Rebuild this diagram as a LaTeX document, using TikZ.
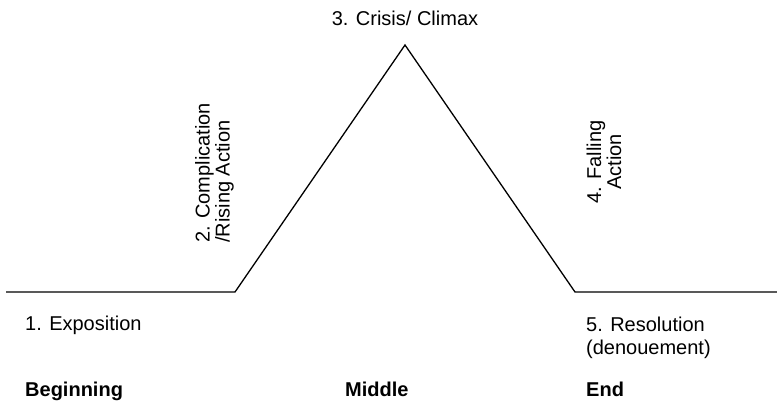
\documentclass[tikz,border=0pt]{standalone}
\usepackage{fontspec}
\setmainfont{Liberation Sans}
\usetikzlibrary{positioning}
\tikzset{
  stagetxt/.style={font=\fontsize{20}{23}\selectfont, inner sep=0pt},
  sidetxt/.style={font=\fontsize{20}{20}\selectfont, inner sep=0pt, rotate=90},
  parttxt/.style={font=\fontsize{20}{23}\selectfont\bfseries, inner sep=0pt, anchor=base west}
}
\begin{document}
\begin{tikzpicture}[x=1pt,y=-1pt]
            \useasboundingbox (0,0) rectangle (777,408);
            % the plot line
            \coordinate (start) at (6,292);
            \coordinate (rise) at (235,292);
            \coordinate (peak) at (405,45);
            \coordinate (fall) at (575,292);
            \coordinate (stop) at (777,292);
            \draw[line width=1.3pt] (start) -- (rise) -- (peak) -- (fall) -- (stop);
            % stages
            \node[stagetxt, anchor=base] (climax) at (405,25) {3. Crisis/ Climax};
            \node[sidetxt, anchor=north west, align=left] (rising) at (195,243) {2. Complication\\/Rising Action};
            \node[sidetxt, anchor=center, align=center] (falling) at (604,162) {4. Falling\\Action};
            \node[stagetxt, anchor=base west] (expo) at (25,330) {1. Exposition};
            \node[stagetxt, anchor=base west, align=left] (resol) at (586,354) {5. Resolution\\(denouement)};
            % parts
            \node[parttxt] (begin) at (25,396) {Beginning};
            \node[parttxt] (middle) at (345,396) {Middle};
            \node[parttxt] (end) at (586,396) {End};
\end{tikzpicture}
\end{document}
